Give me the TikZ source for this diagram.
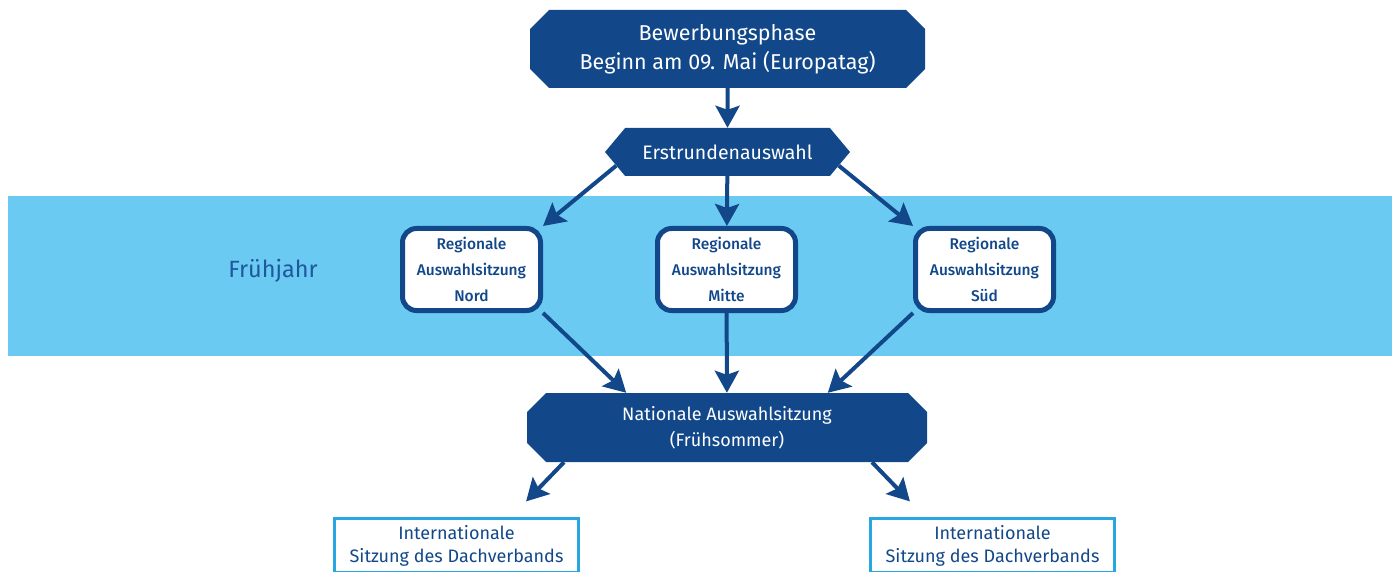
\documentclass[tikz,border=0pt]{standalone}
\usepackage{fontspec}
\setmainfont{Fira Sans}
\newfontfamily\firamedium{Fira Sans Medium}
\usetikzlibrary{shapes.misc,shapes.symbols,arrows.meta}
\definecolor{darkblue}{RGB}{18,72,138}
\definecolor{bandblue}{RGB}{106,202,242}
\definecolor{lineblue}{RGB}{40,166,224}
\definecolor{seasonblue}{RGB}{30,88,158}

\tikzset{
  phase/.style={chamfered rectangle, chamfered rectangle xsep=9pt,
    chamfered rectangle ysep=10pt, fill=darkblue, text=white, align=center, inner sep=0pt},
  round1/.style={signal, signal to=west and east, signal pointer angle=100,
    fill=darkblue, text=white, inner sep=0pt, minimum width=245pt, minimum height=48pt,
    font=\fontsize{19.5}{22}\selectfont},
  region/.style={rectangle, rounded corners=14pt, draw=darkblue, line width=5pt, fill=white,
    text=darkblue, align=center, minimum width=138pt, minimum height=82pt, inner sep=0pt,
    font=\firamedium\fontsize{15.5}{26}\selectfont},
  intl/.style={rectangle, draw=lineblue, line width=3pt, fill=white, text=darkblue,
    align=center, minimum width=244pt, inner ysep=7pt, anchor=north,
    font=\fontsize{18}{23}\selectfont},
  season/.style={text=seasonblue, font=\fontsize{23.5}{26}\selectfont},
  flow/.style={draw=darkblue, line width=4pt, -{Stealth[length=22pt,width=24pt,inset=4pt]}}
}

\begin{document}
\begin{tikzpicture}[x=1pt,y=-1pt]

    \useasboundingbox (0,0) rectangle (1392,572);
    \clip (0,0) rectangle (1392,572);

    % band for spring
    \fill[bandblue] (8,196) rectangle (1392,356);
    \node[season] (fruehjahr) at (273,271) {Frühjahr};

    \node[phase, minimum width=395pt, minimum height=78pt, font=\fontsize{21.5}{29}\selectfont]
      (bewerbung) at (727.5,49) {Bewerbungsphase\\Beginn am 09. Mai (Europatag)};
    \node[round1] (erstrunde) at (727.5,152) {Erstrundenauswahl};

    \node[region] (nord)  at (471.5,269.5) {Regionale\\Auswahlsitzung\\Nord};
    \node[region] (mitte) at (726.5,269.5) {Regionale\\Auswahlsitzung\\Mitte};
    \node[region] (sued)  at (984.5,269.5) {Regionale\\Auswahlsitzung\\Süd};

    \node[phase, minimum width=400pt, minimum height=69pt, font=\fontsize{18}{26}\selectfont]
      (national) at (727,427.5) {Nationale Auswahlsitzung\\(Frühsommer)};

    \node[intl] (intlA) at (456.5,516.5) {Internationale\\Sitzung des Dachverbands};
    \node[intl] (intlB) at (992.5,516.5) {Internationale\\Sitzung des Dachverbands};

    \draw[flow] (bewerbung) -- (erstrunde);
    \draw[flow] (erstrunde.187) -- (nord.north east);
    \draw[flow] (erstrunde) -- (mitte);
    \draw[flow] (erstrunde.-7) -- (sued.north west);

    \draw[flow] (nord.south east) -- (national.161);
    \draw[flow] (mitte) -- (national);
    \draw[flow] (sued.south west) -- (national.19);

    \draw[flow, shorten >=21pt] ([xshift=-163pt]national.south) -- ([xshift=55pt]intlA.north);
    \draw[flow, shorten >=21pt] ([xshift=145pt]national.south) -- ([xshift=-68pt]intlB.north);

\end{tikzpicture}
\end{document}
